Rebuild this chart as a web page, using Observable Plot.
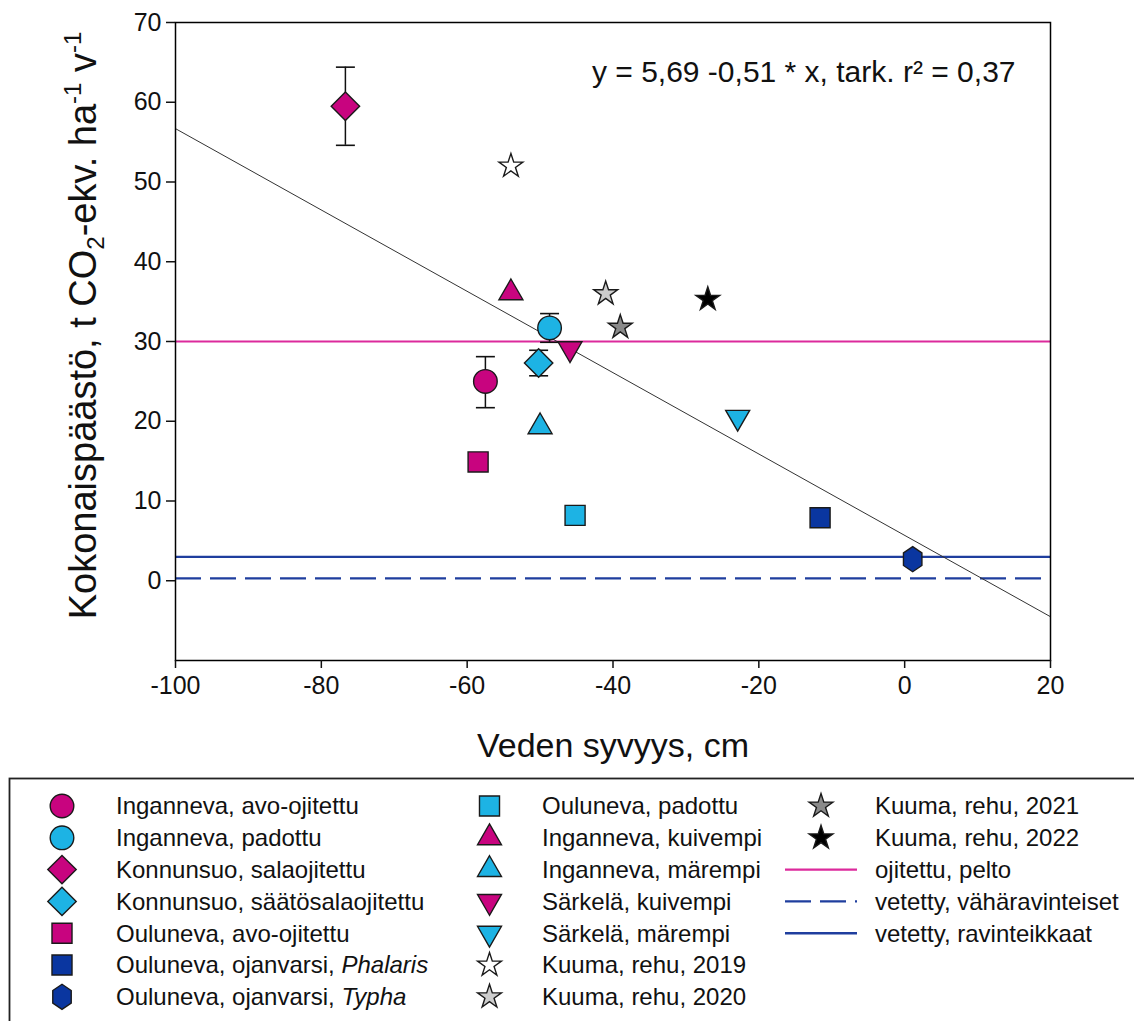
<!DOCTYPE html>
<html>
<head>
<meta charset="utf-8">
<script src="https://cdn.jsdelivr.net/npm/d3@7"></script>
<script src="https://cdn.jsdelivr.net/npm/@observablehq/plot@0.6"></script>
<style>
  body { margin: 0; background: #fff; }
  #chart { position: relative; width: 1134px; height: 1021px; overflow: hidden; background: #fff; }
  #chart svg { display: block; }
</style>
</head>
<body>
<div id="chart"></div>
<script>
// ---------------- data ----------------
const seriesNames = [
  "Inganneva, avo-ojitettu",
  "Inganneva, padottu",
  "Konnunsuo, salaojitettu",
  "Konnunsuo, säätösalaojitettu",
  "Ouluneva, avo-ojitettu",
  "Ouluneva, ojanvarsi, Phalaris",
  "Ouluneva, ojanvarsi, Typha",
  "Ouluneva, padottu",
  "Inganneva, kuivempi",
  "Inganneva, märempi",
  "Särkelä, kuivempi",
  "Särkelä, märempi",
  "Kuuma, rehu, 2019",
  "Kuuma, rehu, 2020",
  "Kuuma, rehu, 2021",
  "Kuuma, rehu, 2022"
];
const waterDepth = [-57.5, -48.7, -76.7, -50.2, -58.5, -11.6, 1.1, -45.2, -54.0, -50.0, -45.9, -22.9, -54.0, -41.0, -39.0, -27.0];
const totalEmission = [25.0, 31.7, 59.5, 27.3, 14.9, 7.9, 2.7, 8.2, 36.1, 19.3, 29.1, 20.5, 52.0, 36.0, 31.8, 35.3];
const errorLow  = [21.7, 29.9, 54.6, 25.7, null, null, null, null, null, null, null, null, null, null, null, null];
const errorHigh = [28.1, 33.5, 64.4, 28.9, null, null, null, null, null, null, null, null, null, null, null, null];
const shapeOf = ["circle", "circle", "diamond", "diamond", "square", "square", "hexagon", "square",
                 "triangle", "triangle", "triangleDown", "triangleDown", "star", "star", "star", "star"];
const fillOf = ["#C8047F", "#1DB3E4", "#C8047F", "#1DB3E4", "#C8047F", "#0A36A0", "#0A36A0", "#1DB3E4",
                "#C8047F", "#1DB3E4", "#C8047F", "#1DB3E4", "#FFFFFF", "#CDCDCD", "#8A8A8A", "#000000"];
const italicPart = [null, null, null, null, null, "Phalaris", "Typha", null, null, null, null, null, null, null, null, null];

const refNames  = ["ojitettu, pelto", "vetetty, vähäravinteiset", "vetetty, ravinteikkaat"];
const refValues = [30, 0.3, 3];
const refColors = ["#DC2A9C", "#1F3E9E", "#1F3E9E"];
const refDashes = [null, "26,9", null];

const fitIntercept = 5.69;
const fitSlope = -0.51;
const fitRange = [-100, 20];
const equationText = "y = 5,69 -0,51 * x, tark. r² = 0,37";

const xTicks = [-100, -80, -60, -40, -20, 0, 20];
const yTicks = [0, 10, 20, 30, 40, 50, 60, 70];
const xLabel = "Veden syvyys, cm";
const yLabelParts = [["Kokonaispäästö, t CO", 0], ["2", 1], ["-ekv. ha", 0], ["-1", -1], [" v", 0], ["-1", -1]];
const yLabel = yLabelParts.map(p => p[0]).join("");

// ---------------- symbols ----------------
const SQ3 = Math.sqrt(3);
const symbolTriangleDown = {
  draw(ctx, size) {
    const y = -Math.sqrt(size / (SQ3 * 3));
    ctx.moveTo(0, -2 * y);
    ctx.lineTo(SQ3 * y, y);
    ctx.lineTo(-SQ3 * y, y);
    ctx.closePath();
  }
};
const symbolHexagon = {
  draw(ctx, size) {
    const R = Math.sqrt(2 * size / (3 * SQ3));
    for (let i = 0; i < 6; i++) {
      const a = -Math.PI / 2 + i * Math.PI / 3;
      const px = 0.85 * R * Math.cos(a), py = R * Math.sin(a);
      if (i) ctx.lineTo(px, py); else ctx.moveTo(px, py);
    }
    ctx.closePath();
  }
};
const symbolCap = {
  draw(ctx, size) {
    const w = Math.sqrt(size) / 2;
    ctx.moveTo(-w, 0);
    ctx.lineTo(w, 0);
  }
};
const shapeDefs = {
  circle: {symbol: d3.symbolCircle, r: 11.8},
  diamond: {symbol: d3.symbolDiamond2, r: 12.8},
  square: {symbol: d3.symbolSquare, r: 11.3},
  triangle: {symbol: d3.symbolTriangle, r: 8.9},
  triangleDown: {symbol: symbolTriangleDown, r: 8.9},
  hexagon: {symbol: symbolHexagon, r: 11.4},
  star: {symbol: d3.symbolStar, r: 7.5}
};

// ---------------- tables ----------------
const points = seriesNames.map((name, i) => ({
  name, x: waterDepth[i], y: totalEmission[i], lo: errorLow[i], hi: errorHigh[i],
  shape: shapeOf[i], fill: fillOf[i]
}));
const withErr = points.filter(d => d.lo != null);
const fitLine = fitRange.map(x => ({x, y: fitIntercept + fitSlope * x}));
const refs = refNames.map((name, i) => ({name, value: refValues[i], color: refColors[i], dash: refDashes[i]}));

const FONT = "'Liberation Sans', Arial, Helvetica, sans-serif";

const marks = [];
for (const r of refs) {
  marks.push(Plot.ruleY([r.value], {stroke: r.color, strokeWidth: 2.2, strokeDasharray: r.dash || undefined}));
}
marks.push(Plot.line(fitLine, {x: "x", y: "y", stroke: "#333", strokeWidth: 1}));
marks.push(Plot.ruleX(withErr, {x: "x", y1: "lo", y2: "hi", stroke: "#111", strokeWidth: 1.5}));
marks.push(Plot.dot(withErr, {x: "x", y: "hi", symbol: symbolCap, r: 10.7, fill: "none", stroke: "#111", strokeWidth: 1.6}));
marks.push(Plot.dot(withErr, {x: "x", y: "lo", symbol: symbolCap, r: 10.7, fill: "none", stroke: "#111", strokeWidth: 1.6}));
for (const key of Object.keys(shapeDefs)) {
  const def = shapeDefs[key];
  marks.push(Plot.dot(points.filter(d => d.shape === key), {
    x: "x", y: "y", symbol: def.symbol, r: def.r, fill: "fill", stroke: "#1a1a1a", strokeWidth: 1.4
  }));
}
marks.push(Plot.frame({stroke: "#000", strokeWidth: 1.5}));
marks.push(Plot.axisX({ticks: xTicks, tickSize: 8, tickPadding: 8, fontSize: 25, tickFormat: d => String(d), label: null, strokeWidth: 1.5}));
marks.push(Plot.axisY({ticks: yTicks, tickSize: 9, tickPadding: 5, fontSize: 25, tickFormat: d => String(d), label: null, strokeWidth: 1.5}));
marks.push(Plot.text([equationText], {frameAnchor: "top-right", dx: -35, dy: 50, lineAnchor: "middle", textAnchor: "end", fontSize: 30, fill: "#111"}));
marks.push(Plot.text([xLabel], {frameAnchor: "bottom", dy: 86, lineAnchor: "middle", textAnchor: "middle", fontSize: 34, fill: "#111"}));
marks.push(Plot.text([yLabel], {frameAnchor: "left", dx: -92, dy: -16, rotate: -90, lineAnchor: "middle", textAnchor: "middle", fontSize: 38, fill: "#111"}));

const chart = Plot.plot({
  width: 1134,
  height: 775,
  marginLeft: 175,
  marginRight: 84,
  marginTop: 22,
  marginBottom: 115,
  style: {fontFamily: FONT, background: "#fff", color: "#111"},
  x: {domain: [-100, 20]},
  y: {domain: [-10, 70]},
  marks
});

// rich text for the y label (subscript / superscripts)
d3.select(chart).selectAll("text").filter(function () { return this.textContent === yLabel; }).each(function () {
  const t = d3.select(this);
  t.text(null);
  let shift = 0;
  for (const [s, kind] of yLabelParts) {
    const target = kind === 1 ? 8 : kind === -1 ? -15 : 0;
    const ts = t.append("tspan").text(s).attr("dy", target - shift);
    if (kind !== 0) ts.attr("font-size", 24);
    shift = target;
  }
});

document.getElementById("chart").appendChild(chart);

// ---------------- legend ----------------
const legH = 246;
const leg = d3.create("svg").attr("width", 1134).attr("height", legH)
  .attr("font-family", FONT).attr("font-size", 24).style("display", "block");
leg.append("rect").attr("x", 9.5).attr("y", 3.5).attr("width", 1140).attr("height", 300)
  .attr("fill", "none").attr("stroke", "#222").attr("stroke-width", 1.8);

const row0 = 31, rowStep = 31.8;
const cols = [{sx: 62, tx: 116}, {sx: 489.5, tx: 542}, {sx: 821, tx: 875}];
const legendItems = [];
points.forEach((p, i) => {
  const col = i < 7 ? 0 : i < 14 ? 1 : 2;
  const row = i < 7 ? i : i < 14 ? i - 7 : i - 14;
  legendItems.push({kind: "point", p, i, col, row});
});
refs.forEach((r, j) => legendItems.push({kind: "line", r, col: 2, row: 2 + j}));

for (const it of legendItems) {
  const c = cols[it.col];
  const y = row0 + it.row * rowStep;
  if (it.kind === "point") {
    const def = shapeDefs[it.p.shape];
    leg.append("path")
      .attr("d", d3.symbol().type(def.symbol).size(Math.PI * def.r * def.r)())
      .attr("transform", `translate(${c.sx},${y})`)
      .attr("fill", it.p.fill).attr("stroke", "#1a1a1a").attr("stroke-width", 1.4);
    const t = leg.append("text").attr("x", c.tx).attr("y", y).attr("dy", "0.35em").attr("fill", "#111");
    const ital = italicPart[it.i];
    if (ital) {
      t.append("tspan").text(it.p.name.slice(0, it.p.name.length - ital.length));
      t.append("tspan").attr("font-style", "italic").text(ital);
    } else {
      t.text(it.p.name);
    }
  } else {
    leg.append("line").attr("x1", 785).attr("x2", 857).attr("y1", y).attr("y2", y)
      .attr("stroke", it.r.color).attr("stroke-width", 2.4)
      .attr("stroke-dasharray", it.r.dash || null);
    leg.append("text").attr("x", c.tx).attr("y", y).attr("dy", "0.35em").attr("fill", "#111").text(it.r.name);
  }
}
document.getElementById("chart").appendChild(leg.node());
</script>
</body>
</html>
